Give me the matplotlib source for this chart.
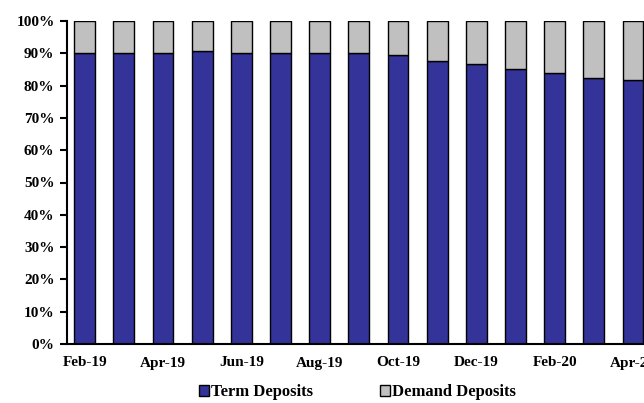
import matplotlib
matplotlib.use("Agg")
import matplotlib.pyplot as plt
import numpy as np
from matplotlib.ticker import MultipleLocator, FuncFormatter

months = ["Feb-19", "Mar-19", "Apr-19", "May-19", "Jun-19", "Jul-19", "Aug-19",
          "Sep-19", "Oct-19", "Nov-19", "Dec-19", "Jan-20", "Feb-20", "Mar-20", "Apr-20"]
term_deposits = [90.2, 90.2, 90.2, 90.8, 90.2, 90.2, 90.2, 90.2, 89.6, 87.6,
                 86.8, 85.0, 84.0, 82.4, 81.6]
demand_deposits = [100 - v for v in term_deposits]

plt.rcParams["font.family"] = ["Liberation Serif", "DejaVu Serif"]
plt.rcParams["font.weight"] = "bold"

fig = plt.figure(figsize=(6.44, 4.03), dpi=100)
ax = fig.add_axes([67 / 644, 1 - 344 / 403, (652.6 - 67) / 644, (344 - 21) / 403])

x = np.arange(len(months))
w = 0.53
ax.bar(x, term_deposits, width=w, color="#333399", edgecolor="black",
       linewidth=1.0, label="Term Deposits")
ax.bar(x, demand_deposits, width=w, bottom=term_deposits, color="#C0C0C0",
       edgecolor="black", linewidth=1.0, label="Demand Deposits")

ax.set_xlim(-0.45, len(months) - 0.5)
ax.set_ylim(0, 100)
ax.yaxis.set_major_locator(MultipleLocator(10))
ax.yaxis.set_major_formatter(FuncFormatter(lambda v, p: f"{int(v)}%"))
ax.set_xticks(x[::2])
ax.set_xticklabels(months[::2])
ax.tick_params(axis="x", length=0, pad=9, labelsize=11)
ax.tick_params(axis="y", length=5, width=1.5, direction="out", labelsize=11, pad=4)
for lbl in ax.get_xticklabels() + ax.get_yticklabels():
    lbl.set_fontweight("bold")

ax.spines["top"].set_visible(False)
ax.spines["right"].set_visible(False)
ax.spines["left"].set_linewidth(1.5)
ax.spines["bottom"].set_linewidth(1.5)

fig.legend(loc="lower center", bbox_to_anchor=(0.555, -0.03), ncol=2,
           frameon=False, handlelength=0.6, handleheight=0.6, handletextpad=0.15,
           columnspacing=4.0, prop={"weight": "bold", "size": 12})

fig.savefig("out.png", dpi=100)
